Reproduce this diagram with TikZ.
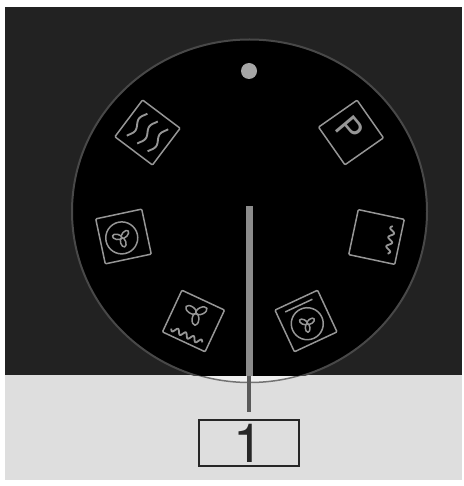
\documentclass[tikz,border=0pt]{standalone}
\usepackage{fontspec}
\setsansfont{TeX Gyre Heros}
\usetikzlibrary{positioning}
\definecolor{dlink}{HTML}{222222}
\definecolor{dlpale}{HTML}{DEDEDE}
\definecolor{dlrim}{HTML}{484848}
\definecolor{dlicon}{HTML}{969696}
\definecolor{dlneedle}{HTML}{8C8C8C}
\tikzset{
  dl panel/.style={fill=dlink, draw=none},
  dl lower/.style={fill=dlpale, draw=none},
  dl icon/.style={draw=dlicon, line width=1.5pt, rounded corners=1pt, minimum width=47pt,
    minimum height=46pt, inner sep=0pt},
  dl line/.style={draw=dlicon, line width=1.5pt, line join=round},
  dl needle/.style={draw=dlneedle, line width=7pt},
  dl stem/.style={draw=black!65, line width=4pt},
  dl box/.style={draw=black!85, line width=2pt, minimum width=100pt, minimum height=46pt,
    inner sep=0pt, font=\sffamily\fontsize{54}{54}\selectfont, text=black!85},
  dl letter/.style={font=\sffamily\fontsize{33}{33}\selectfont, text=dlicon, inner sep=0pt},
  dl fan/.pic={
    \foreach \a in {90,210,330}
      \draw[dl line, rotate=\a] (5,0) ellipse [x radius=5, y radius=2.8];
  }
}
\begin{document}
\begin{tikzpicture}[x=1pt, y=-1pt]
  \useasboundingbox (0,0) rectangle (463,486);
  \fill[dl lower] (5,374) rectangle (462,480);
  \fill[dl panel] (5,7) rectangle (462,375);
  % dial, it only shows as a crescent on the lower panel
  \draw[draw=black!55, line width=1.5pt, fill=white!94!black] (249.5,211.5) ellipse [x radius=176.5, y radius=171];
  \begin{scope}
    \clip (5,7) rectangle (462,375);
    \draw[draw=dlrim, line width=2pt, fill=black] (249.5,211.5) ellipse [x radius=177.5, y radius=172];
  \end{scope}
  \fill[black!35] (249,71) circle (8);
  % icon frames
  \foreach \nm/\px/\py/\rot in {heat/147.5/132.5/-37,park/351/132.5/35,lower/376.5/237/-12,
      fan/123.5/236.5/12,fanlow/193.5/321/-25,fanring/306/321/25}
    \node[dl icon, rotate=\rot] (\nm) at (\px,\py) {};
  % heat
  \begin{scope}[shift={(147.5,132.5)}, rotate=-37]
    \foreach \dx in {-13,0,13}
      \draw[dl line, line width=1.9pt] plot[domain=-15:15, samples=40, smooth] ({\dx+2.2*sin(\x*15)},\x);
  \end{scope}
  \node[dl letter, rotate=-50] (parkletter) at (350,129) {P};
  % lower heat
  \begin{scope}[shift={(376.5,237)}, rotate=-12]
    \draw[dl line, line width=1.8pt] plot[domain=-14:14, samples=40, smooth] ({14+2.5*sin(\x*38)},\x);
  \end{scope}
  % fan
  \begin{scope}[shift={(123.5,236.5)}, rotate=12]
    \draw[dl line] (-2,1) circle (16);
    \pic[scale=0.95, rotate=-42] at (-2,1) {dl fan};
  \end{scope}
  % fan and lower heat
  \begin{scope}[shift={(193.5,321)}, rotate=-25]
    \pic[scale=1.2, rotate=55] at (-1,-8) {dl fan};
    \draw[dl line, line width=1.8pt] plot[domain=-17:17, samples=50, smooth] (\x,{16+2.5*sin(\x*42)});
  \end{scope}
  % ring heater with fan
  \begin{scope}[shift={(306,321)}, rotate=25]
    \draw[dl line] (-15,-17) -- (15,-17);
    \draw[dl line] (0,3) circle (16);
    \pic[scale=0.85, rotate=-55] at (0,3) {dl fan};
  \end{scope}
  % pointer and number
  \node[dl box] (numbox) at (248.5,443) {1};
  \coordinate (needletop) at (249,206);
  \coordinate (panelcut) at (249,376);
  \coordinate (needlefoot) at (249,412);
  \draw[dl needle] (needletop) -- (panelcut);
  \draw[dl stem] (panelcut) -- (needlefoot);
\end{tikzpicture}
\end{document}
